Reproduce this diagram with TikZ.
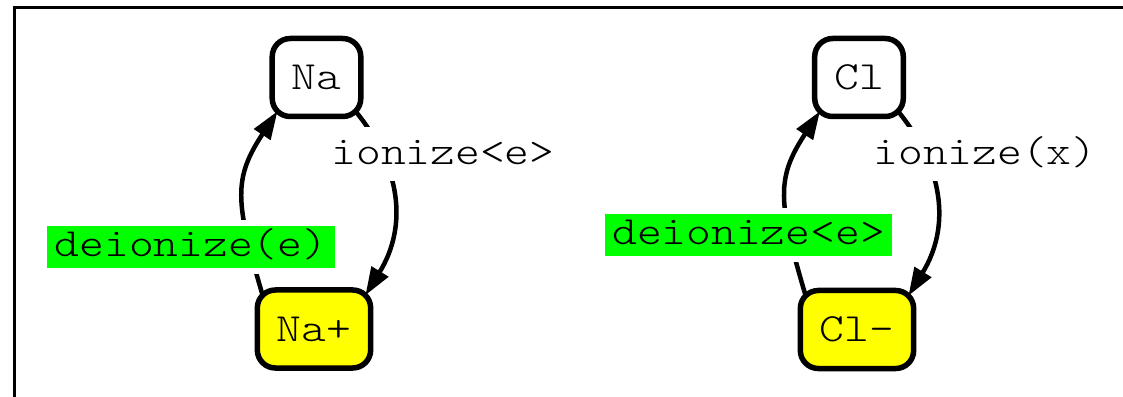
\documentclass[tikz,border=0pt]{standalone}
\usepackage{fontspec}
\setmonofont{lmmonolt10-regular}[Extension=.otf, FakeStretch=1.18]
\usetikzlibrary{arrows.meta,calc}
\definecolor{stategreen}{RGB}{0,255,0}
\definecolor{stateyellow}{RGB}{255,255,0}

\begin{document}
\begin{tikzpicture}[x=1pt,y=1pt,
  every node/.style={font=\fontsize{40}{48}\selectfont\ttfamily},
  state/.style={draw, line width=5.5pt, rounded corners=18pt, outer sep=0pt,
    inner xsep=19.5pt, inner ysep=0pt, minimum height=78pt,
    text height=24pt, text depth=0pt, fill=white},
  ion/.style={state, fill=stateyellow},
  lbl/.style={anchor=base, inner xsep=7.5pt, inner ysep=0pt, outer sep=0pt,
    text height=31pt, text depth=11pt, preaction={draw=white, line width=12pt}},
  trans/.style={line width=4.5pt, -{Triangle[length=28pt,width=19pt]}},
]
\useasboundingbox (0,0) rectangle (1123,396);
\clip (0,0) rectangle (1123,396);

% outer frame
\draw[line width=2.5pt] (14.5,-20) -- (14.5,388.7) -- (1150,388.7);

% states
\node[state] (Na)  at (316.5,318.5) {Na};
\node[ion]   (Nap) at (314,67)      {Na+};
\node[state] (Cl)  at (859,318.5)   {Cl};
\node[ion]   (Clm) at (857,66.5)    {Cl-};

% transitions
\draw[trans] ($(Na.south east)+(-5.3,5.3)$) .. controls +(45,-55) and +(43,70) .. ($(Nap.north east)+(-5.3,-5.3)$);
\draw[trans] ($(Nap.north west)+(5.3,-5.3)$) .. controls +(-28,95) and +(-44,-67) .. ($(Na.south west)+(5.3,5.3)$);
\draw[trans] ($(Cl.south east)+(-5.3,5.3)$) .. controls +(45,-55) and +(43,70) .. ($(Clm.north east)+(-5.3,-5.3)$);
\draw[trans] ($(Clm.north west)+(5.3,-5.3)$) .. controls +(-28,95) and +(-44,-67) .. ($(Cl.south west)+(5.3,5.3)$);

% transition labels
\node[lbl, fill=white]      (ionNa)   at (443,231.5)  {ionize<e>};
\node[lbl, fill=stategreen] (deionNa) at (191,139)    {deionize(e)};
\node[lbl, fill=white]      (ionCl)   at (985,231.5)  {ionize(x)};
\node[lbl, fill=stategreen] (deionCl) at (748.5,151)  {deionize<e>};
\end{tikzpicture}
\end{document}
